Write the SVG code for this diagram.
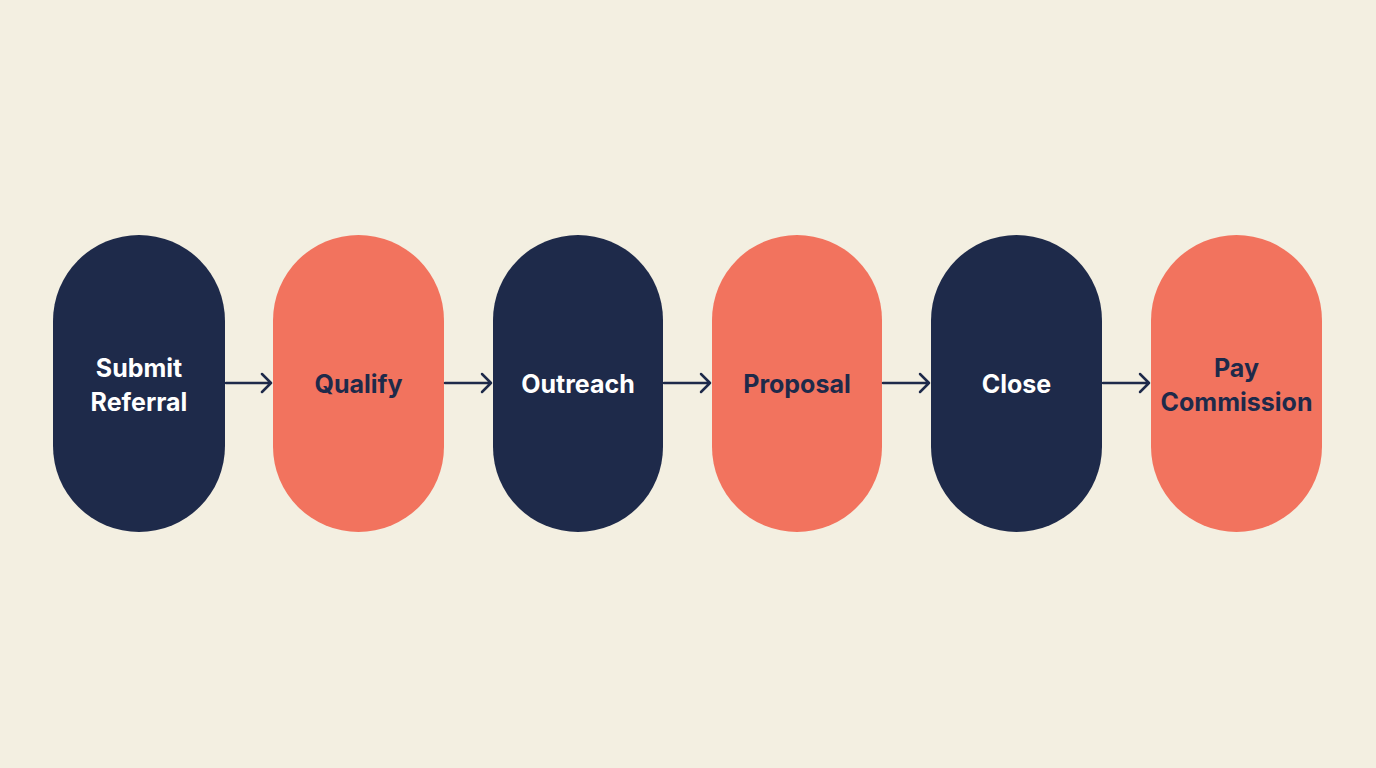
<svg xmlns="http://www.w3.org/2000/svg" width="1376" height="768" viewBox="0 0 1376 768">
<defs>
<style>
.dark{fill:#1e2a4a}
.coral{fill:#f2735e}
text{font-family:"Inter","Liberation Sans",sans-serif;font-weight:700;font-size:25px;text-anchor:middle}
.tl{fill:#ffffff}
.td{fill:#1e2a4a}
.c{stroke:#1e2a4a;stroke-width:2.5;fill:none;stroke-linecap:round;stroke-linejoin:round}
</style>
</defs>
<rect width="1376" height="768" fill="#f3efe1"/>
<g id="n1"><rect class="dark" x="53" y="235" width="172" height="297" rx="86"/><text class="tl" x="139" y="377">Submit</text><text class="tl" x="139" y="411">Referral</text></g>
<g id="n2"><rect class="coral" x="273" y="235" width="171" height="297" rx="85.5"/><text class="td" x="358.5" y="393">Qualify</text></g>
<g id="n3"><rect class="dark" x="493" y="235" width="170" height="297" rx="85"/><text class="tl" x="578" y="393">Outreach</text></g>
<g id="n4"><rect class="coral" x="712" y="235" width="170" height="297" rx="85"/><text class="td" x="797" y="393">Proposal</text></g>
<g id="n5"><rect class="dark" x="931" y="235" width="171" height="297" rx="85.5"/><text class="tl" x="1016.5" y="393">Close</text></g>
<g id="n6"><rect class="coral" x="1151" y="235" width="171" height="297" rx="85.5"/><text class="td" x="1236.5" y="377">Pay</text><text class="td" x="1236.5" y="411">Commission</text></g>
<g id="connectors">
<path class="c" d="M226 383H271M262 374L271 383L262 392"/>
<path class="c" d="M445 383H491M482 374L491 383L482 392"/>
<path class="c" d="M664 383H710M701 374L710 383L701 392"/>
<path class="c" d="M883 383H929M920 374L929 383L920 392"/>
<path class="c" d="M1103 383H1149M1140 374L1149 383L1140 392"/>
</g>
</svg>
